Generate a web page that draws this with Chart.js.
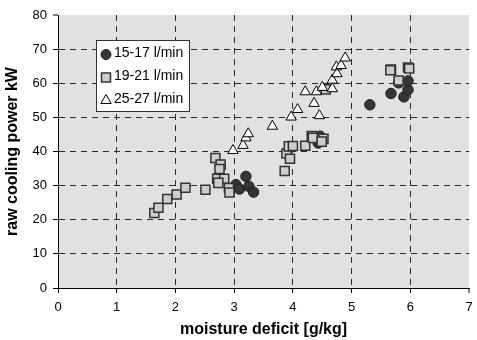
<!DOCTYPE html>
<html>
<head>
<meta charset="utf-8">
<script src="https://cdn.jsdelivr.net/npm/chart.js@4/dist/chart.umd.min.js"></script>
<style>
  html, body { margin: 0; padding: 0; background: #fff; }
  #wrap { width: 477px; height: 340px; }
</style>
</head>
<body>
<div id="wrap"><canvas id="chart" width="477" height="340"></canvas></div>
<script>
// data
const seriesNames = ['15-17 l/min', '19-21 l/min', '25-27 l/min'];

const lowX = [3.03, 3.09, 3.20, 3.25, 3.33, 4.43, 4.46, 5.31, 5.67, 5.89, 5.96, 5.96, 5.80];
const lowY = [30.3, 29.0, 32.7, 29.8, 28.1, 42.5, 44.5, 53.7, 57.0, 56.0, 58.1, 60.7, 60.1];

const midX = [1.64, 1.71, 1.86, 2.02, 2.17, 2.51, 2.68, 2.77, 2.75, 2.71, 2.83, 2.73, 2.91, 2.92,
              3.86, 3.89, 3.95, 3.93, 4.00, 4.21, 4.32, 4.34, 4.52, 4.49, 4.56, 5.67, 5.66, 5.80, 5.96, 5.98];
const midY = [22.0, 23.5, 26.1, 27.4, 29.4, 28.8, 38.1, 36.2, 34.9, 32.0, 32.0, 30.8, 29.3, 28.0,
              34.3, 39.4, 37.9, 41.5, 41.6, 41.7, 44.5, 44.0, 43.7, 42.9, 58.2, 64.0, 63.8, 60.8, 64.6, 64.3];

const highX = [2.98, 3.15, 3.20, 3.24, 3.65, 3.97, 4.08, 4.21, 4.36, 4.45, 4.40, 4.50, 4.67, 4.67,
               4.75, 4.74, 4.82, 4.89];
const highY = [40.3, 41.8, 44.0, 45.2, 47.4, 50.1, 52.3, 57.5, 54.1, 50.5, 57.5, 58.8, 58.4, 60.9,
               62.8, 64.8, 65.2, 67.4];

const xTicks = [0, 1, 2, 3, 4, 5, 6, 7];
const yTicks = [0, 10, 20, 30, 40, 50, 60, 70, 80];

function toPoints(xs, ys) {
    return xs.map((x, i) => ({ x: x, y: ys[i] }));
}

// grey plot background
const plotBackground = {
    id: 'plotBackground',
    beforeDraw(chart) {
        const { ctx, chartArea } = chart;
        ctx.save();
        ctx.fillStyle = '#e1e1e1';
        ctx.fillRect(chartArea.left, chartArea.top, chartArea.right - chartArea.left, chartArea.bottom - chartArea.top);
        ctx.restore();
    }
};

// legend box inside the plot
function drawMarker(ctx, style, x, y, ds) {
    ctx.save();
    ctx.fillStyle = ds.backgroundColor;
    ctx.strokeStyle = ds.borderColor;
    ctx.lineWidth = ds.borderWidth;
    ctx.beginPath();
    if (style === 'circle') {
        ctx.arc(x, y, 5, 0, Math.PI * 2);
    } else if (style === 'rect') {
        ctx.rect(x - 4.5, y - 4.5, 9, 9);
    } else {
        ctx.moveTo(x, y - 6);
        ctx.lineTo(x + 5.2, y + 3);
        ctx.lineTo(x - 5.2, y + 3);
        ctx.closePath();
    }
    ctx.fill();
    ctx.stroke();
    ctx.restore();
}

const boxLegend = {
    id: 'boxLegend',
    afterDraw(chart) {
        const ctx = chart.ctx;
        ctx.save();
        ctx.fillStyle = '#ffffff';
        ctx.strokeStyle = '#333333';
        ctx.lineWidth = 1;
        ctx.fillRect(96.5, 40.5, 93, 71);
        ctx.strokeRect(96.5, 40.5, 93, 71);
        ctx.font = '14px "Liberation Sans", Arial, sans-serif';
        ctx.textBaseline = 'middle';
        const rows = [53, 76, 99];
        chart.data.datasets.forEach((ds, i) => {
            drawMarker(ctx, ds.pointStyle, 106, rows[i] + 1.5, ds);
            ctx.fillStyle = '#000';
            ctx.fillText(ds.label, 114, rows[i]);
        });
        ctx.restore();
    }
};

// hide the grid line on the far edge (top / right), keep its tick
const edgeWidth = (edge) => (c) => (c.tick && c.tick.value === edge ? 0 : 1);

new Chart(document.getElementById('chart'), {
    type: 'scatter',
    data: {
        datasets: [
            {
                label: seriesNames[0],
                data: toPoints(lowX, lowY),
                pointStyle: 'circle',
                pointRadius: 5.2,
                backgroundColor: '#353535',
                borderColor: '#1c1c1c',
                borderWidth: 1,
                order: 2
            },
            {
                label: seriesNames[1],
                data: toPoints(midX, midY),
                pointStyle: 'rect',
                pointRadius: 6.4,
                backgroundColor: '#cdcdcd',
                borderColor: '#333333',
                borderWidth: 1.5,
                order: 1
            },
            {
                label: seriesNames[2],
                data: toPoints(highX, highY),
                pointStyle: 'triangle',
                pointRadius: 6,
                backgroundColor: '#ffffff',
                borderColor: '#000000',
                borderWidth: 1,
                order: 0
            }
        ]
    },
    options: {
        responsive: false,
        animation: false,
        layout: { padding: { top: 15, right: 3, left: 0, bottom: 0 } },
        plugins: {
            legend: { display: false },
            tooltip: { enabled: false }
        },
        scales: {
            x: {
                type: 'linear',
                min: 0,
                max: 7,
                afterBuildTicks(scale) {
                    scale.ticks = xTicks.map(v => ({ value: v }));
                },
                afterFit(scale) {
                    scale.height = 52;
                    scale.paddingLeft = 0;
                    scale.paddingRight = 0;
                },
                border: { display: true, color: '#000', width: 1, dash: [6, 5] },
                grid: {
                    color: '#2a2a2a',
                    lineWidth: edgeWidth(7),
                    drawTicks: true,
                    tickLength: 5,
                    tickWidth: 1,
                    tickColor: '#000',
                    tickBorderDash: []
                },
                ticks: {
                    color: '#000',
                    padding: 7,
                    maxRotation: 0,
                    font: { size: 13, family: '"Liberation Sans", Arial, sans-serif' }
                },
                title: {
                    display: true,
                    text: 'moisture deficit [g/kg]',
                    color: '#000',
                    padding: { top: 0, bottom: 1 },
                    font: { size: 16, weight: 'bold', family: '"Liberation Sans", Arial, sans-serif' }
                }
            },
            y: {
                type: 'linear',
                min: 0,
                max: 80,
                afterBuildTicks(scale) {
                    scale.ticks = yTicks.map(v => ({ value: v }));
                },
                afterFit(scale) {
                    scale.width = 58;
                    scale.paddingTop = 0;
                    scale.paddingBottom = 0;
                },
                border: { display: true, color: '#000', width: 1, dash: [6, 5] },
                grid: {
                    color: '#2a2a2a',
                    lineWidth: edgeWidth(80),
                    drawTicks: true,
                    tickLength: 5,
                    tickWidth: 1,
                    tickColor: '#000',
                    tickBorderDash: []
                },
                ticks: {
                    color: '#000',
                    padding: 6,
                    font: { size: 13, family: '"Liberation Sans", Arial, sans-serif' }
                },
                title: {
                    display: true,
                    text: 'raw cooling power kW',
                    color: '#000',
                    padding: { top: 3, bottom: 0 },
                    font: { size: 16, weight: 'bold', family: '"Liberation Sans", Arial, sans-serif' }
                }
            }
        }
    },
    plugins: [plotBackground, boxLegend]
});
</script>
</body>
</html>
